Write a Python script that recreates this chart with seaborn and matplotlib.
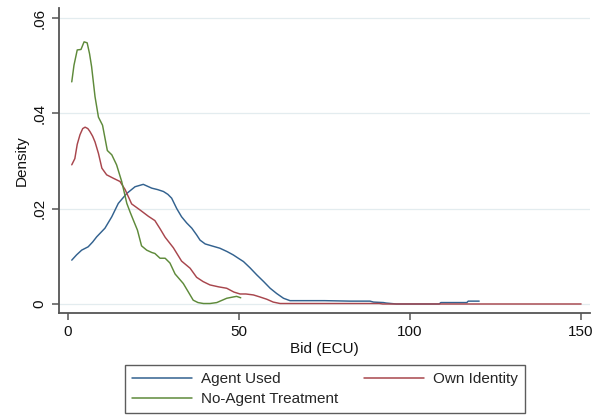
import numpy as np
import pandas as pd
import seaborn as sns
import matplotlib
matplotlib.use("Agg")
import matplotlib.pyplot as plt
from matplotlib.lines import Line2D

# ---- data (kernel density curves) ----
agent_x = [1.1, 2.5, 4.0, 5.9, 7.2, 8.4, 9.6, 10.8, 12.8, 14.7, 16.0, 17.2, 19.6, 22.0, 24.5, 26.2,
           27.9, 29.2, 30.3, 31.8, 33.2, 34.7, 36.2, 37.6, 38.6, 40.1, 42.0, 44.4, 46.5, 48.3, 50.0,
           51.3, 53.2, 55.2, 57.2, 59.1, 61.0, 63.0, 64.9, 75.0, 82.5, 88.3, 89.3, 92.2, 93.0, 96.0,
           108.5, 109.0, 116.6, 117.0, 120.2]
agent_y = [.0092, .0103, .0113, .0120, .0130, .0141, .0150, .0159, .0183, .0211, .0222, .0232, .0246,
           .0251, .0243, .0240, .0236, .0230, .0222, .0200, .0183, .0170, .0159, .0145, .0134, .0126,
           .0122, .0117, .0110, .0103, .0095, .0089, .0076, .0061, .0047, .0033, .0022, .0012, .0007,
           .0007, .0006, .0006, .0004, .0003, .0002, .0000, .0000, .0003, .0003, .0006, .0006]

own_x = [1.1, 2.0, 2.7, 3.5, 4.3, 5.0, 5.8, 6.4, 7.2, 7.9, 8.9, 9.9, 11.3, 13.2, 15.2, 16.7, 18.6,
         21.1, 23.5, 25.4, 26.9, 28.4, 30.8, 33.2, 35.7, 37.6, 39.5, 41.5, 44.0, 46.4, 48.5, 50.3,
         52.0, 54.2, 56.0, 58.1, 60.0, 62.0, 91.0, 92.0, 150.0]
own_y = [.0292, .0305, .0335, .0355, .0368, .0371, .0368, .0362, .0352, .0340, .0316, .0285, .0271,
         .0264, .0257, .0240, .0210, .0197, .0184, .0175, .0158, .0140, .0118, .0090, .0075, .0056,
         .0047, .0040, .0036, .0033, .0025, .0021, .0021, .0019, .0015, .0010, .0004, .0001, .0001,
         .0000, .0000]

noagent_x = [1.1, 1.75, 2.7, 3.8, 4.7, 5.6, 6.3, 6.9, 7.9, 8.9, 10.1, 11.5, 12.8, 14.2, 15.7, 17.2,
             18.2, 19.1, 20.3, 21.5, 23.0, 24.5, 25.4, 26.9, 28.4, 29.8, 31.3, 33.7, 35.2, 36.6,
             38.0, 39.6, 41.5, 43.5, 46.4, 48.5, 49.3, 50.5]
noagent_y = [.0466, .0501, .0533, .0534, .0550, .0548, .0525, .0498, .0435, .0392, .0375, .0322,
             .0313, .0292, .0257, .0211, .0192, .0176, .0155, .0122, .0113, .0108, .0106, .0096,
             .0096, .0086, .0063, .0043, .0025, .0008, .0003, .0001, .0001, .0003, .0012, .0015,
             .0016, .0013]

series_names = ["Agent Used", "Own Identity", "No-Agent Treatment"]
x_ticks = [0, 50, 100, 150]
y_ticks = [0, 0.02, 0.04, 0.06]
y_tick_labels = ["0", ".02", ".04", ".06"]

df = pd.concat([
    pd.DataFrame({"x": agent_x, "y": agent_y, "s": series_names[0]}),
    pd.DataFrame({"x": own_x, "y": own_y, "s": series_names[1]}),
    pd.DataFrame({"x": noagent_x, "y": noagent_y, "s": series_names[2]}),
], ignore_index=True)

sns.set_style("white")
plt.rcParams["font.family"] = ["Liberation Sans", "DejaVu Sans"]

fig = plt.figure(figsize=(5.96, 4.15), dpi=100)
ax = fig.add_axes([59 / 596, 1 - 313 / 415, (590 - 59) / 596, (313 - 8) / 415])

palette = {"Agent Used": "#33628f", "Own Identity": "#a8464d", "No-Agent Treatment": "#5e8a3a"}
sns.lineplot(data=df, x="x", y="y", hue="s", palette=palette, sort=False, estimator=None,
             linewidth=1.05, ax=ax, legend=False)

ax.set_xlim(-2.63, 152.6)
ax.set_ylim(-0.00189, 0.0621)
ax.set_xticks(x_ticks)
ax.set_xticklabels([str(t) for t in x_ticks])
ax.set_yticks(y_ticks)
ax.set_yticklabels(y_tick_labels, rotation=90, va="center")
ax.grid(axis="y", color="#e3ecef", linewidth=0.9)
ax.grid(axis="x", visible=False)
ax.set_axisbelow(True)

for s in ["top", "right"]:
    ax.spines[s].set_visible(False)
for s in ["left", "bottom"]:
    ax.spines[s].set_color("#555555")
    ax.spines[s].set_linewidth(1.3)
ax.tick_params(axis="both", direction="out", length=5, width=1.1, color="#555555",
               labelsize=11, labelcolor="#111111", pad=4, left=True, bottom=True)

ax.set_xlabel("Bid (ECU)", fontsize=11, color="#111111", labelpad=2)
ax.set_ylabel("Density", fontsize=11, color="#111111", labelpad=3)

handles = [Line2D([], [], color=palette[n], linewidth=1.1) for n in series_names]
order = [0, 2, 1]
leg = fig.legend([handles[i] for i in order], [series_names[i] for i in order],
                 loc="center", bbox_to_anchor=(325 / 596, 1 - 389 / 415), ncol=2,
                 fontsize=11, frameon=True, fancybox=False, handlelength=3.9,
                 handletextpad=0.6, columnspacing=1.7, borderpad=0.45, labelspacing=0.4,
                 borderaxespad=0)
leg.get_frame().set_edgecolor("#333333")
leg.get_frame().set_linewidth(1.0)

fig.savefig("out.png", dpi=100)
